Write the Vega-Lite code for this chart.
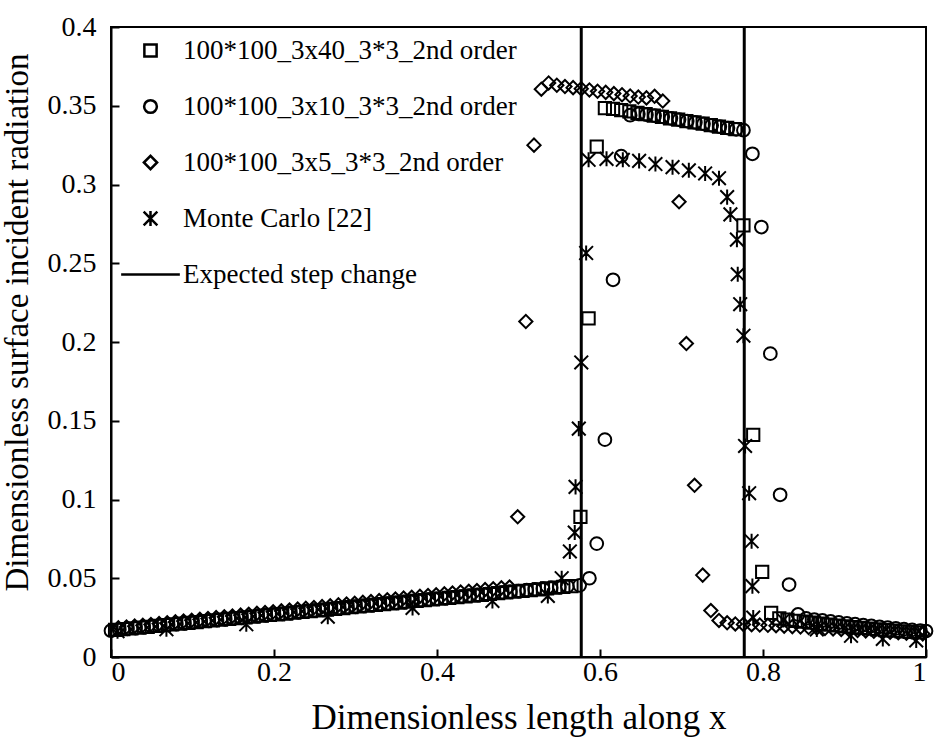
{
  "$schema": "https://vega.github.io/schema/vega-lite/v6.json",
  "width": 815,
  "height": 630,
  "autosize": {"type": "none"},
  "padding": {"left": 111, "top": 27, "right": 16, "bottom": 94},
  "background": "white",
  "config": {
    "font": "Times New Roman, Liberation Serif, serif",
    "view": {"stroke": "black", "strokeWidth": 2},
    "axis": {
      "domainColor": "black", "domainWidth": 2,
      "tickColor": "black", "tickWidth": 2, "tickSize": -8,
      "grid": false,
      "labelFont": "Times New Roman, Liberation Serif, serif", "labelFontSize": 28, "labelColor": "black",
      "titleFont": "Times New Roman, Liberation Serif, serif", "titleFontSize": 34, "titleFontWeight": "normal", "titleColor": "black"
    }
  },
  "layer": [
    {
      "data": {"values": [{"x": 0.577}, {"x": 0.777}]},
      "mark": {"type": "rule", "color": "black", "strokeWidth": 3},
      "encoding": {"x": {"field": "x", "type": "quantitative"}}
    },
    {
      "data": {"values": [
        {"s":"A","x":0.005,"y":0.0172},{"s":"A","x":0.015,"y":0.0177},{"s":"A","x":0.025,"y":0.0182},{"s":"A","x":0.035,"y":0.0187},{"s":"A","x":0.045,"y":0.0192},{"s":"A","x":0.055,"y":0.0197},{"s":"A","x":0.065,"y":0.0202},{"s":"A","x":0.075,"y":0.0207},{"s":"A","x":0.085,"y":0.0212},{"s":"A","x":0.095,"y":0.0217},
        {"s":"A","x":0.105,"y":0.0222},{"s":"A","x":0.115,"y":0.0227},{"s":"A","x":0.125,"y":0.0232},{"s":"A","x":0.135,"y":0.0237},{"s":"A","x":0.145,"y":0.0242},{"s":"A","x":0.155,"y":0.0247},{"s":"A","x":0.165,"y":0.0252},{"s":"A","x":0.175,"y":0.0257},{"s":"A","x":0.185,"y":0.0262},{"s":"A","x":0.195,"y":0.0267},
        {"s":"A","x":0.205,"y":0.0271},{"s":"A","x":0.215,"y":0.0276},{"s":"A","x":0.225,"y":0.0281},{"s":"A","x":0.235,"y":0.0286},{"s":"A","x":0.245,"y":0.0291},{"s":"A","x":0.255,"y":0.0296},{"s":"A","x":0.265,"y":0.0301},{"s":"A","x":0.275,"y":0.0306},{"s":"A","x":0.285,"y":0.0311},{"s":"A","x":0.295,"y":0.0316},
        {"s":"A","x":0.305,"y":0.0321},{"s":"A","x":0.315,"y":0.0326},{"s":"A","x":0.325,"y":0.0331},{"s":"A","x":0.335,"y":0.0336},{"s":"A","x":0.345,"y":0.0341},{"s":"A","x":0.355,"y":0.0346},{"s":"A","x":0.365,"y":0.0351},{"s":"A","x":0.375,"y":0.0356},{"s":"A","x":0.385,"y":0.0361},{"s":"A","x":0.395,"y":0.0366},
        {"s":"A","x":0.405,"y":0.0370},{"s":"A","x":0.415,"y":0.0375},{"s":"A","x":0.425,"y":0.0380},{"s":"A","x":0.435,"y":0.0385},{"s":"A","x":0.445,"y":0.0390},{"s":"A","x":0.455,"y":0.0395},{"s":"A","x":0.465,"y":0.0400},{"s":"A","x":0.475,"y":0.0405},{"s":"A","x":0.485,"y":0.0410},{"s":"A","x":0.495,"y":0.0415},
        {"s":"A","x":0.505,"y":0.0420},{"s":"A","x":0.515,"y":0.0425},{"s":"A","x":0.525,"y":0.0430},{"s":"A","x":0.535,"y":0.0435},{"s":"A","x":0.545,"y":0.0440},{"s":"A","x":0.555,"y":0.0445},{"s":"A","x":0.565,"y":0.0450},
        {"s":"A","x":0.576,"y":0.089},{"s":"A","x":0.586,"y":0.215},{"s":"A","x":0.596,"y":0.324},{"s":"A","x":0.606,"y":0.3485},{"s":"A","x":0.616,"y":0.348},{"s":"A","x":0.626,"y":0.3472},{"s":"A","x":0.636,"y":0.3465},{"s":"A","x":0.646,"y":0.3455},{"s":"A","x":0.656,"y":0.3447},{"s":"A","x":0.666,"y":0.3438},
        {"s":"A","x":0.676,"y":0.343},{"s":"A","x":0.686,"y":0.342},{"s":"A","x":0.696,"y":0.3412},{"s":"A","x":0.706,"y":0.3403},{"s":"A","x":0.716,"y":0.3395},{"s":"A","x":0.726,"y":0.3386},{"s":"A","x":0.736,"y":0.3377},{"s":"A","x":0.746,"y":0.3368},{"s":"A","x":0.756,"y":0.336},{"s":"A","x":0.766,"y":0.3352},
        {"s":"A","x":0.776,"y":0.274},{"s":"A","x":0.788,"y":0.141},{"s":"A","x":0.799,"y":0.054},{"s":"A","x":0.810,"y":0.028},{"s":"A","x":0.820,"y":0.0245},{"s":"A","x":0.830,"y":0.0237},{"s":"A","x":0.840,"y":0.0230},{"s":"A","x":0.850,"y":0.0224},{"s":"A","x":0.860,"y":0.0218},{"s":"A","x":0.870,"y":0.0212},
        {"s":"A","x":0.880,"y":0.0206},{"s":"A","x":0.890,"y":0.0200},{"s":"A","x":0.900,"y":0.0195},{"s":"A","x":0.910,"y":0.0190},{"s":"A","x":0.920,"y":0.0185},{"s":"A","x":0.930,"y":0.0180},{"s":"A","x":0.940,"y":0.0175},{"s":"A","x":0.950,"y":0.0171},{"s":"A","x":0.960,"y":0.0167},{"s":"A","x":0.970,"y":0.0163},{"s":"A","x":0.980,"y":0.0160},{"s":"A","x":0.990,"y":0.0157},

        {"s":"B","x":0.0,"y":0.0167},{"s":"B","x":0.01,"y":0.0174},{"s":"B","x":0.02,"y":0.0179},{"s":"B","x":0.03,"y":0.0184},{"s":"B","x":0.04,"y":0.0189},{"s":"B","x":0.05,"y":0.0194},{"s":"B","x":0.06,"y":0.0199},{"s":"B","x":0.07,"y":0.0204},{"s":"B","x":0.08,"y":0.0209},{"s":"B","x":0.09,"y":0.0214},
        {"s":"B","x":0.10,"y":0.0219},{"s":"B","x":0.11,"y":0.0224},{"s":"B","x":0.12,"y":0.0229},{"s":"B","x":0.13,"y":0.0234},{"s":"B","x":0.14,"y":0.0239},{"s":"B","x":0.15,"y":0.0244},{"s":"B","x":0.16,"y":0.0249},{"s":"B","x":0.17,"y":0.0254},{"s":"B","x":0.18,"y":0.0259},{"s":"B","x":0.19,"y":0.0264},
        {"s":"B","x":0.20,"y":0.0269},{"s":"B","x":0.21,"y":0.0274},{"s":"B","x":0.22,"y":0.0279},{"s":"B","x":0.23,"y":0.0284},{"s":"B","x":0.24,"y":0.0289},{"s":"B","x":0.25,"y":0.0294},{"s":"B","x":0.26,"y":0.0299},{"s":"B","x":0.27,"y":0.0304},{"s":"B","x":0.28,"y":0.0309},{"s":"B","x":0.29,"y":0.0314},
        {"s":"B","x":0.30,"y":0.0319},{"s":"B","x":0.31,"y":0.0324},{"s":"B","x":0.32,"y":0.0329},{"s":"B","x":0.33,"y":0.0334},{"s":"B","x":0.34,"y":0.0339},{"s":"B","x":0.35,"y":0.0344},{"s":"B","x":0.36,"y":0.0349},{"s":"B","x":0.37,"y":0.0354},{"s":"B","x":0.38,"y":0.0359},{"s":"B","x":0.39,"y":0.0364},
        {"s":"B","x":0.40,"y":0.0369},{"s":"B","x":0.41,"y":0.0374},{"s":"B","x":0.42,"y":0.0379},{"s":"B","x":0.43,"y":0.0384},{"s":"B","x":0.44,"y":0.0389},{"s":"B","x":0.45,"y":0.0394},{"s":"B","x":0.46,"y":0.0399},{"s":"B","x":0.47,"y":0.0404},{"s":"B","x":0.48,"y":0.0409},{"s":"B","x":0.49,"y":0.0414},
        {"s":"B","x":0.50,"y":0.0419},{"s":"B","x":0.51,"y":0.0424},{"s":"B","x":0.52,"y":0.0429},{"s":"B","x":0.53,"y":0.0434},{"s":"B","x":0.54,"y":0.0439},{"s":"B","x":0.55,"y":0.0444},{"s":"B","x":0.56,"y":0.0449},{"s":"B","x":0.575,"y":0.0455},
        {"s":"B","x":0.587,"y":0.050},{"s":"B","x":0.596,"y":0.072},{"s":"B","x":0.606,"y":0.138},{"s":"B","x":0.616,"y":0.2395},{"s":"B","x":0.626,"y":0.318},{"s":"B","x":0.637,"y":0.344},{"s":"B","x":0.647,"y":0.3448},{"s":"B","x":0.657,"y":0.3443},{"s":"B","x":0.667,"y":0.3437},{"s":"B","x":0.677,"y":0.343},
        {"s":"B","x":0.687,"y":0.342},{"s":"B","x":0.697,"y":0.3412},{"s":"B","x":0.707,"y":0.3403},{"s":"B","x":0.717,"y":0.3394},{"s":"B","x":0.727,"y":0.3385},{"s":"B","x":0.737,"y":0.3376},{"s":"B","x":0.747,"y":0.3367},{"s":"B","x":0.757,"y":0.3358},{"s":"B","x":0.767,"y":0.335},{"s":"B","x":0.776,"y":0.3345},
        {"s":"B","x":0.787,"y":0.3195},{"s":"B","x":0.798,"y":0.273},{"s":"B","x":0.809,"y":0.1926},{"s":"B","x":0.821,"y":0.103},{"s":"B","x":0.832,"y":0.046},{"s":"B","x":0.843,"y":0.027},{"s":"B","x":0.853,"y":0.0245},{"s":"B","x":0.863,"y":0.0238},{"s":"B","x":0.873,"y":0.0232},{"s":"B","x":0.883,"y":0.0226},
        {"s":"B","x":0.893,"y":0.0220},{"s":"B","x":0.903,"y":0.0214},{"s":"B","x":0.913,"y":0.0208},{"s":"B","x":0.923,"y":0.0202},{"s":"B","x":0.933,"y":0.0197},{"s":"B","x":0.943,"y":0.0192},{"s":"B","x":0.953,"y":0.0187},{"s":"B","x":0.963,"y":0.0182},{"s":"B","x":0.973,"y":0.0177},{"s":"B","x":0.983,"y":0.0172},{"s":"B","x":0.993,"y":0.0168},{"s":"B","x":1.0,"y":0.0165},

        {"s":"C","x":0.009,"y":0.0185},{"s":"C","x":0.019,"y":0.0190},{"s":"C","x":0.029,"y":0.0196},{"s":"C","x":0.039,"y":0.0201},{"s":"C","x":0.049,"y":0.0206},{"s":"C","x":0.059,"y":0.0212},{"s":"C","x":0.069,"y":0.0217},{"s":"C","x":0.079,"y":0.0223},{"s":"C","x":0.089,"y":0.0228},{"s":"C","x":0.099,"y":0.0233},
        {"s":"C","x":0.109,"y":0.0239},{"s":"C","x":0.119,"y":0.0244},{"s":"C","x":0.129,"y":0.0250},{"s":"C","x":0.139,"y":0.0255},{"s":"C","x":0.149,"y":0.0260},{"s":"C","x":0.159,"y":0.0266},{"s":"C","x":0.169,"y":0.0271},{"s":"C","x":0.179,"y":0.0277},{"s":"C","x":0.189,"y":0.0282},{"s":"C","x":0.199,"y":0.0287},
        {"s":"C","x":0.209,"y":0.0293},{"s":"C","x":0.219,"y":0.0298},{"s":"C","x":0.229,"y":0.0304},{"s":"C","x":0.239,"y":0.0309},{"s":"C","x":0.249,"y":0.0314},{"s":"C","x":0.259,"y":0.0320},{"s":"C","x":0.269,"y":0.0325},{"s":"C","x":0.279,"y":0.0331},{"s":"C","x":0.289,"y":0.0336},{"s":"C","x":0.299,"y":0.0341},
        {"s":"C","x":0.309,"y":0.0347},{"s":"C","x":0.319,"y":0.0352},{"s":"C","x":0.329,"y":0.0358},{"s":"C","x":0.339,"y":0.0363},{"s":"C","x":0.349,"y":0.0368},{"s":"C","x":0.359,"y":0.0374},{"s":"C","x":0.369,"y":0.0379},{"s":"C","x":0.379,"y":0.0385},{"s":"C","x":0.389,"y":0.0390},{"s":"C","x":0.399,"y":0.0395},
        {"s":"C","x":0.409,"y":0.0401},{"s":"C","x":0.419,"y":0.0406},{"s":"C","x":0.429,"y":0.0412},{"s":"C","x":0.439,"y":0.0417},{"s":"C","x":0.449,"y":0.0422},{"s":"C","x":0.459,"y":0.0428},{"s":"C","x":0.469,"y":0.0433},{"s":"C","x":0.479,"y":0.0439},{"s":"C","x":0.489,"y":0.0444},
        {"s":"C","x":0.499,"y":0.089},{"s":"C","x":0.509,"y":0.213},{"s":"C","x":0.519,"y":0.325},{"s":"C","x":0.528,"y":0.3605},{"s":"C","x":0.537,"y":0.3645},{"s":"C","x":0.547,"y":0.363},{"s":"C","x":0.557,"y":0.3622},{"s":"C","x":0.567,"y":0.3615},{"s":"C","x":0.577,"y":0.3608},{"s":"C","x":0.587,"y":0.3600},
        {"s":"C","x":0.597,"y":0.3592},{"s":"C","x":0.607,"y":0.3585},{"s":"C","x":0.617,"y":0.3577},{"s":"C","x":0.627,"y":0.3570},{"s":"C","x":0.637,"y":0.3562},{"s":"C","x":0.647,"y":0.3555},{"s":"C","x":0.657,"y":0.3550},{"s":"C","x":0.667,"y":0.3560},{"s":"C","x":0.677,"y":0.3530},
        {"s":"C","x":0.697,"y":0.289},{"s":"C","x":0.706,"y":0.199},{"s":"C","x":0.716,"y":0.109},{"s":"C","x":0.726,"y":0.052},{"s":"C","x":0.736,"y":0.0295},{"s":"C","x":0.746,"y":0.0232},{"s":"C","x":0.756,"y":0.0217},{"s":"C","x":0.766,"y":0.0210},{"s":"C","x":0.776,"y":0.0207},{"s":"C","x":0.786,"y":0.0205},
        {"s":"C","x":0.796,"y":0.0203},{"s":"C","x":0.806,"y":0.0201},{"s":"C","x":0.816,"y":0.0199},{"s":"C","x":0.826,"y":0.0196},{"s":"C","x":0.836,"y":0.0193},{"s":"C","x":0.846,"y":0.0190},{"s":"C","x":0.856,"y":0.0187},{"s":"C","x":0.866,"y":0.0184},{"s":"C","x":0.876,"y":0.0181},{"s":"C","x":0.886,"y":0.0178},
        {"s":"C","x":0.896,"y":0.0175},{"s":"C","x":0.906,"y":0.0172},{"s":"C","x":0.916,"y":0.0169},{"s":"C","x":0.926,"y":0.0166},{"s":"C","x":0.936,"y":0.0163},{"s":"C","x":0.946,"y":0.0160},{"s":"C","x":0.956,"y":0.0157},{"s":"C","x":0.966,"y":0.0154},{"s":"C","x":0.976,"y":0.0151},{"s":"C","x":0.986,"y":0.0149},{"s":"C","x":0.996,"y":0.0147},

        {"s":"M","x":0.008,"y":0.0164},{"s":"M","x":0.068,"y":0.0176},{"s":"M","x":0.166,"y":0.0208},{"s":"M","x":0.266,"y":0.0256},{"s":"M","x":0.370,"y":0.0312},{"s":"M","x":0.468,"y":0.0356},{"s":"M","x":0.536,"y":0.0388},{"s":"M","x":0.553,"y":0.050},{"s":"M","x":0.563,"y":0.067},{"s":"M","x":0.569,"y":0.079},
        {"s":"M","x":0.570,"y":0.108},{"s":"M","x":0.574,"y":0.145},{"s":"M","x":0.577,"y":0.187},{"s":"M","x":0.583,"y":0.2565},{"s":"M","x":0.586,"y":0.3157},{"s":"M","x":0.608,"y":0.3163},{"s":"M","x":0.628,"y":0.3157},{"s":"M","x":0.648,"y":0.315},{"s":"M","x":0.668,"y":0.313},{"s":"M","x":0.689,"y":0.311},
        {"s":"M","x":0.709,"y":0.309},{"s":"M","x":0.729,"y":0.307},{"s":"M","x":0.746,"y":0.304},{"s":"M","x":0.756,"y":0.292},{"s":"M","x":0.760,"y":0.281},{"s":"M","x":0.768,"y":0.265},{"s":"M","x":0.769,"y":0.243},{"s":"M","x":0.772,"y":0.224},{"s":"M","x":0.776,"y":0.204},{"s":"M","x":0.778,"y":0.134},
        {"s":"M","x":0.783,"y":0.104},{"s":"M","x":0.786,"y":0.0735},{"s":"M","x":0.787,"y":0.045},{"s":"M","x":0.788,"y":0.025},{"s":"M","x":0.825,"y":0.0235},{"s":"M","x":0.866,"y":0.0175},{"s":"M","x":0.908,"y":0.0135},{"s":"M","x":0.947,"y":0.0115},{"s":"M","x":0.988,"y":0.0105}
      ]},
      "mark": {"type": "point", "filled": false, "color": "black", "strokeWidth": 2, "opacity": 1},
      "encoding": {
        "x": {"field": "x", "type": "quantitative", "scale": {"domain": [0, 1], "nice": false},
              "axis": {"values": [0, 0.2, 0.4, 0.6, 0.8, 1], "format": "~g", "labelPadding": 9, "title": "Dimensionless length along x", "titlePadding": 14, "titleFontSize": 35}},
        "y": {"field": "y", "type": "quantitative", "scale": {"domain": [0, 0.4], "nice": false},
              "axis": {"values": [0, 0.05, 0.1, 0.15, 0.2, 0.25, 0.3, 0.35, 0.4], "format": "~g", "labelPadding": 23, "title": "Dimensionless surface incident radiation", "titlePadding": 13, "titleFontSize": 33, "titleY": 295}},
        "shape": {"field": "s", "type": "nominal",
          "scale": {"domain": ["A", "B", "C", "M", "L"],
                    "range": ["square", "circle", "diamond", "M-1,-1L1,1M-1,1L1,-1M0,-1.1L0,1.1", "M-4.15,0L4.15,0"]},
          "legend": {"title": null, "orient": "none", "legendX": 26, "legendY": 10, "padding": 0,
                     "labelFont": "Times New Roman, Liberation Serif, serif", "labelFontSize": 27, "labelColor": "black", "labelLimit": 600,
                     "symbolSize": 190, "symbolStrokeWidth": 2.5, "symbolStrokeColor": "black", "rowPadding": 28, "labelOffset": 19,
                     "labelExpr": "datum.label == 'A' ? '100*100_3x40_3*3_2nd order' : datum.label == 'B' ? '100*100_3x10_3*3_2nd order' : datum.label == 'C' ? '100*100_3x5_3*3_2nd order' : datum.label == 'M' ? 'Monte Carlo [22]' : 'Expected step change'"}},
        "size": {"field": "s", "type": "nominal",
          "scale": {"domain": ["A", "B", "C", "M", "L"], "range": [150, 200, 200, 170, 190]},
          "legend": {"title": null}}
      }
    }
  ]
}
